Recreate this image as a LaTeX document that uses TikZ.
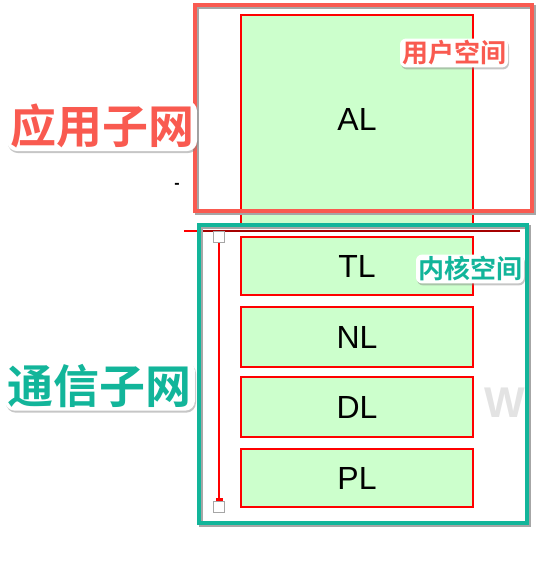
\documentclass[tikz,border=0pt]{standalone}
\usepackage{fontspec}
\setmainfont{Liberation Sans}
\newfontfamily\cjk{Noto Sans CJK SC}[BoldFont={Noto Sans CJK SC Bold}]
\usetikzlibrary{shadows}

\definecolor{usercol}{RGB}{249,90,80}
\definecolor{kernelcol}{RGB}{18,181,154}
\definecolor{layergreen}{RGB}{204,255,204}

\begin{document}
\begin{tikzpicture}[x=1pt,y=-1pt,
    layerbox/.style={rectangle,draw=red,fill=layergreen,line width=2pt,
      minimum width=232pt,font=\fontsize{32}{36}\selectfont},
    spacebox/.style={rectangle,line width=4pt,
      preaction={draw=black!35,line width=4pt,transform canvas={shift={(1.5pt,-2pt)}}}},
    tag/.style={fill=white,rounded corners=6pt,inner sep=2pt,
      drop shadow={shadow xshift=1pt,shadow yshift=-2pt,opacity=0.45}},
    handle/.style={rectangle,draw=gray!70,fill=white,line width=1.5pt,
      minimum size=11pt,inner sep=0pt}]

  \useasboundingbox (0,0) rectangle (538,578);

  % watermark
  \node[anchor=west,text=gray!22,font=\bfseries\fontsize{43}{43}\selectfont] (mark) at (481,403) {W};

  % application layer
  \node[layerbox,minimum height=209pt] (AL) at (357,119.5) {AL};

  \node[spacebox,draw=usercol,minimum width=337pt,minimum height=206pt] (user) at (363.5,108) {};

  % boundary line
  \coordinate (cut)    at (184,231);
  \coordinate (cutin)  at (199,231);
  \coordinate (cutend) at (520,231);
  \draw[red,line width=1.5pt] (cut) -- (cutin);
  \draw[red!65!black,line width=1.5pt] (cutin) -- (cutend);

  \node[spacebox,draw=kernelcol,minimum width=328pt,minimum height=298pt] (kernel) at (363,374) {};

  % kernel layers
  \begin{scope}[every node/.style={layerbox}]
    \node (TL) at (357,266) [minimum height=58pt] {TL};
    \node (NL) at (357,337) [minimum height=60pt] {NL};
    \node (DL) at (357,407) [minimum height=60pt] {DL};
    \node (PL) at (357,478) [minimum height=58pt] {PL};
  \end{scope}

  % range marker
  \node[handle] (top) at (219,237) {};
  \node[handle] (bot) at (219,507) {};
  \draw[red,line width=1.5pt] (top) -- (bot);
  \fill[red] ([xshift=-3.5pt]bot.north) rectangle ([xshift=3.5pt,yshift=3pt]bot.north);

  % labels
  \begin{scope}[every node/.style={tag}]
    \node[text=usercol,font=\cjk\bfseries\fontsize{26}{28}\selectfont] (userlbl) at (454,53) {用户空间};
    \node[text=kernelcol,font=\cjk\bfseries\fontsize{26}{28}\selectfont] (kernellbl) at (470,269) {内核空间};
    \node[text=usercol,font=\cjk\bfseries\fontsize{46}{48}\selectfont,inner sep=3pt,rounded corners=10pt] (app) at (102,126) {应用子网};
    \node[text=kernelcol,font=\cjk\bfseries\fontsize{46}{48}\selectfont,inner sep=3pt,rounded corners=10pt] (comm) at (100,386) {通信子网};
  \end{scope}

  \node[font=\bfseries\fontsize{16}{16}\selectfont] (dash) at (177,186) {-};

\end{tikzpicture}
\end{document}
